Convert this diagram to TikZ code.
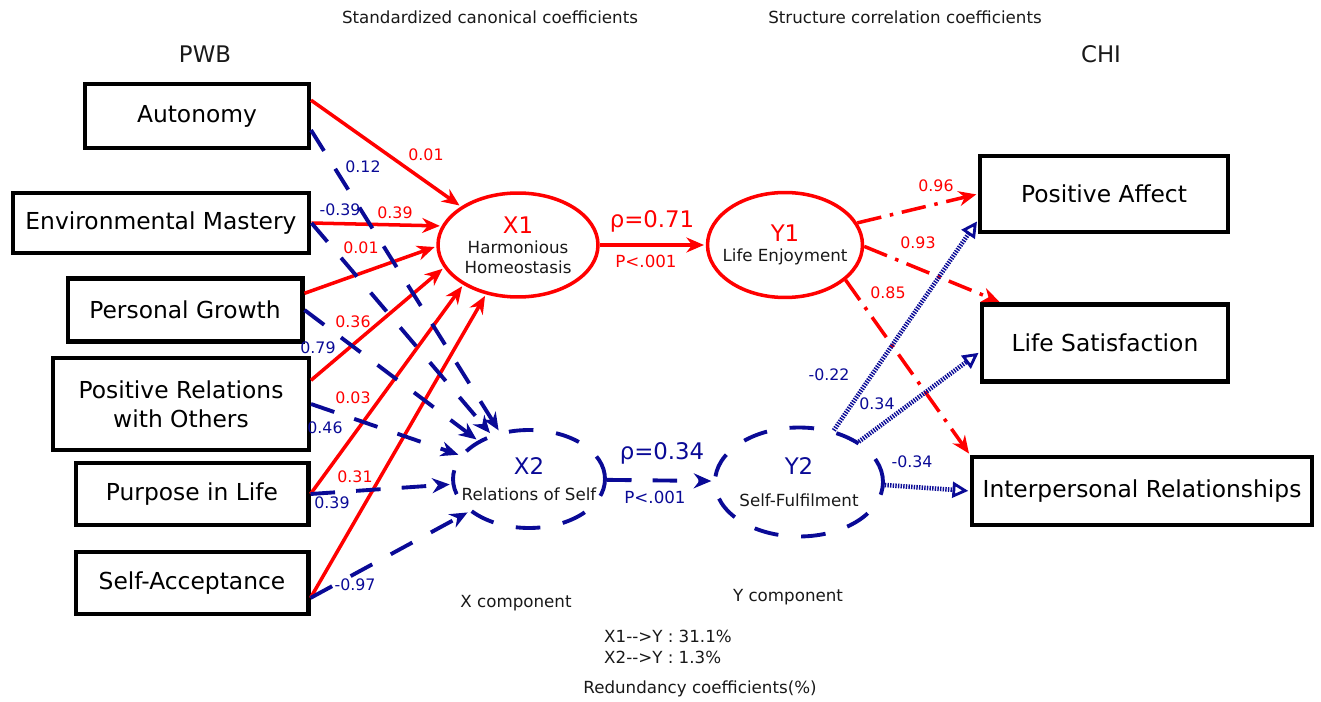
\documentclass[tikz,border=0pt]{standalone}
\usepackage{fontspec}
\setmainfont{DejaVu Sans}
\usetikzlibrary{arrows.meta,shapes.geometric}
\definecolor{pwbred}{RGB}{255,0,0}
\definecolor{pwbblue}{RGB}{10,10,150}
\definecolor{txtgray}{RGB}{25,25,25}

\begin{document}
\begin{tikzpicture}[->,>={Stealth[length=10pt,width=8.5pt]},shorten >=1pt,x=0.02cm,y=-0.02cm,
    box node/.style={rectangle,draw=black,line width=2.3pt,inner sep=0pt,align=center,font=\fontsize{13.3}{16.5}\selectfont},
    canon node/.style={ellipse,line width=2pt,inner xsep=-20pt,inner ysep=0pt,align=center,text=txtgray,font=\fontsize{9.5}{11.5}\selectfont},
    red edge/.style={draw=pwbred,line width=2pt},
    blue edge/.style={draw=pwbblue,line width=2.2pt,dash pattern=on 14pt off 12pt},
    dashdot edge/.style={draw=pwbred,line width=2pt,dash pattern=on 14pt off 5pt on 2pt off 5pt},
    dotted edge/.style={draw=pwbblue,line width=2.6pt,dash pattern=on 0.8pt off 0.7pt,-{Triangle[open,length=9pt,width=9pt,line width=1.6pt]}},
    red label/.style={text=pwbred,font=\fontsize{9}{10}\selectfont},
    blue label/.style={text=pwbblue,font=\fontsize{9}{10}\selectfont},
    note/.style={text=txtgray,font=\fontsize{9.5}{12}\selectfont}]

\useasboundingbox (0,0) rectangle (1321,702);

% PWB scales
\node[box node,minimum width=4.48cm,minimum height=1.28cm] (auto)  at (197,116) {Autonomy};
\node[box node,minimum width=5.94cm,minimum height=1.2cm]  (env)   at (161,223) {Environmental Mastery};
\node[box node,minimum width=4.7cm,minimum height=1.26cm]  (grow)  at (185,310) {Personal Growth};
\node[box node,minimum width=5.12cm,minimum height=1.84cm] (rel)   at (181,404) {Positive Relations\\with Others};
\node[box node,minimum width=4.66cm,minimum height=1.24cm] (purp)  at (192,494) {Purpose in Life};
\node[box node,minimum width=4.66cm,minimum height=1.24cm] (acc)   at (192,583) {Self-Acceptance};

% CHI scales
\node[box node,minimum width=4.96cm,minimum height=1.52cm] (pa) at (1104,194) {Positive Affect};
\node[box node,minimum width=4.92cm,minimum height=1.54cm] (ls) at (1105,343) {Life Satisfaction};
\node[box node,minimum width=6.8cm,minimum height=1.36cm]  (ir) at (1142,491) {Interpersonal Relationships};

% canonical variates
\node[canon node,draw=pwbred,minimum width=3.2cm,minimum height=2.08cm] (X1) at (518,245)
    {{\fontsize{13}{15}\selectfont\color{pwbred}X1}\\Harmonious\\Homeostasis};
\node[canon node,draw=pwbred,minimum width=3.1cm,minimum height=2.1cm] (Y1) at (785,245)
    {{\fontsize{13}{15}\selectfont\color{pwbred}Y1}\\Life Enjoyment};
\node[canon node,draw=pwbblue,dash pattern=on 14pt off 13pt,line width=2.2pt,minimum width=3.04cm,minimum height=1.96cm] (X2) at (529,479)
    {{\fontsize{13}{15}\selectfont\color{pwbblue}X2}\\[3pt]Relations of Self};
\node[canon node,draw=pwbblue,dash pattern=on 14pt off 13pt,line width=2.2pt,minimum width=3.36cm,minimum height=2.18cm] (Y2) at (799,482)
    {{\fontsize{13}{15}\selectfont\color{pwbblue}Y2}\\[7pt]Self-Fulfilment};

% X1 loadings
\draw[red edge] ([yshift=9pt]auto.east) -- (X1.146);
\draw[red edge] (env.east) -- (X1.166);
\draw[red edge] ([yshift=9.5pt]grow.east) -- (X1.181);
\draw[red edge] ([yshift=13.5pt]rel.east) -- (X1.197);
\draw[red edge] (purp.east) -- (X1.216);
\draw[red edge] ([yshift=-8.5pt]acc.east) -- (X1.237);

% X2 loadings
\draw[blue edge] ([yshift=-8pt]auto.east) -- (X2);
\draw[blue edge] (env.east) -- (X2);
\draw[blue edge] (grow.east) -- (X2);
\draw[blue edge] (rel.east) -- (X2);
\draw[blue edge] (purp.east) -- (X2);
\draw[blue edge] ([yshift=-8.5pt]acc.east) -- (X2);

% canonical correlations
\draw[red edge] (X1) -- (Y1);
\draw[blue edge] (X2) -- (Y2);

% structure correlations
\draw[dashdot edge] (Y1.17) -- (pa.west);
\draw[dashdot edge] (Y1.-1) -- ([xshift=12pt]ls.north west);
\draw[dashdot edge] (Y1.-30) -- (ir.north west);
\draw[dotted edge] (Y2.56) -- ([yshift=8pt]pa.south west);
\draw[dotted edge] (Y2.34) -- ([yshift=-5pt]ls.west);
\draw[dotted edge] (Y2.-2) -- (ir.west);

% coefficients
\node[red label] (r1) at (426,155) {0.01};
\node[red label] (r2) at (395,213) {0.39};
\node[red label] (r3) at (361,248) {0.01};
\node[red label] (r4) at (353,322) {0.36};
\node[red label] (r5) at (353,398) {0.03};
\node[red label] (r6) at (355,477) {0.31};
\node[blue label] (b1) at (363,167) {0.12};
\node[blue label] (b2) at (340,210) {-0.39};
\node[blue label] (b3) at (318,348) {0.79};
\node[blue label] (b4) at (325,428) {0.46};
\node[blue label] (b5) at (332,503) {0.39};
\node[blue label] (b6) at (355,585) {-0.97};

\node[text=pwbred,font=\fontsize{13}{15}\selectfont] (rho1) at (652,221) {ρ=0.71};
\node[text=pwbred,font=\fontsize{9.5}{11}\selectfont] (p1) at (646,261) {P<.001};
\node[text=pwbblue,font=\fontsize{13}{15}\selectfont] (rho2) at (662,453) {ρ=0.34};
\node[text=pwbblue,font=\fontsize{9.5}{11}\selectfont] (p2) at (655,497) {P<.001};

\node[red label] (s1) at (936,186) {0.96};
\node[red label] (s2) at (918,243) {0.93};
\node[red label] (s3) at (888,293) {0.85};
\node[blue label] (s4) at (829,375) {-0.22};
\node[blue label] (s5) at (877,404) {0.34};
\node[blue label] (s6) at (912,462) {-0.34};

% titles and notes
\node[note] (std) at (490,17) {Standardized canonical coefficients};
\node[note] (str) at (905,17) {Structure correlation coefficients};
\node[text=txtgray,font=\fontsize{13}{15}\selectfont] (pwb) at (205,54) {PWB};
\node[text=txtgray,font=\fontsize{13}{15}\selectfont] (chi) at (1101,54) {CHI};
\node[note] (xc) at (516,603) {X component};
\node[note] (yc) at (788,597) {Y component};
\node[note,anchor=west,align=left,font=\fontsize{9.5}{11.5}\selectfont] (red1) at (598,647) {X1-\kern0pt->Y : 31.1\%\\X2-\kern0pt->Y : 1.3\%};
\node[note] (redc) at (700,689) {Redundancy coefficients(\%)};
\end{tikzpicture}
\end{document}
